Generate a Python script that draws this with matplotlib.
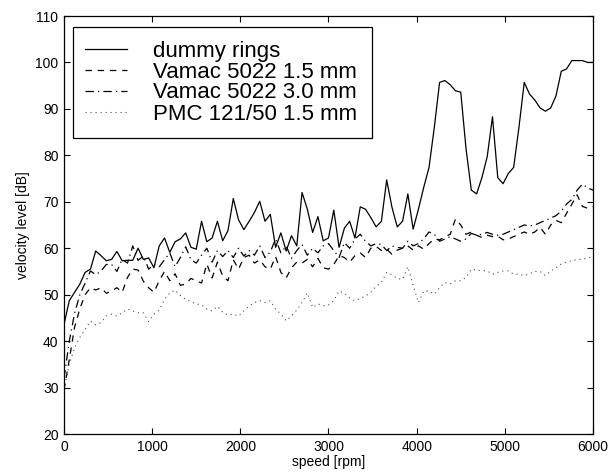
import numpy as np
import matplotlib
matplotlib.use("Agg")
import matplotlib.pyplot as plt
from matplotlib.patches import Rectangle

plt.rcParams['font.family'] = ['Liberation Sans', 'DejaVu Sans']
plt.rcParams['lines.scale_dashes'] = False

# shaft speed grid [rpm], 60 rpm steps
rpm = np.linspace(0, 6000, 101)

dummy_rings = [
    43.6, 48.7, 50.5, 52.3, 54.8, 55.5, 59.4, 58.4, 57.3, 57.6,
    59.3, 57.3, 57.4, 57.4, 60.0, 57.6, 57.9, 55.8, 60.5, 62.2,
    59.1, 61.4, 62.0, 63.3, 60.2, 59.8, 65.8, 61.4, 62.2, 65.8,
    61.6, 63.8, 70.7, 66.1, 64.0, 65.8, 67.7, 70.1, 65.8, 67.3,
    60.2, 63.3, 59.4, 62.7, 60.5, 72.0, 68.4, 63.4, 66.8, 61.6,
    62.2, 68.2, 60.2, 64.3, 65.8, 62.2, 68.9, 68.4, 66.6, 64.6,
    65.8, 74.7, 68.8, 64.6, 65.8, 71.7, 64.1, 68.4, 73.1, 77.4,
    86.0, 95.7, 96.1, 95.2, 93.9, 93.6, 81.4, 72.5, 71.7, 75.2,
    79.7, 88.3, 75.2, 73.9, 76.1, 77.4, 86.0, 95.7, 93.2, 91.9,
    90.2, 89.5, 90.2, 92.8, 98.1, 98.6, 100.4, 100.4, 100.4, 100.0,
    100.0,
]

vamac_15 = [
    29.5, 36.0, 43.0, 47.0, 50.0, 51.5, 51.0, 51.5, 50.3, 50.8,
    51.5, 50.5, 53.7, 55.5, 55.3, 52.9, 51.5, 50.5, 53.0, 55.0,
    53.0, 54.5, 52.0, 52.3, 53.5, 53.0, 52.5, 56.6, 53.6, 57.0,
    54.0, 53.0, 57.5, 55.5, 58.0, 58.5, 56.8, 57.5, 56.0, 55.5,
    58.2, 54.8, 53.6, 55.8, 57.0, 56.8, 57.6, 56.0, 57.8, 55.8,
    55.5, 56.5, 58.4, 58.0, 57.0, 58.4, 59.0, 58.0, 60.0, 60.4,
    59.5, 59.8, 58.7, 59.6, 60.0, 60.5, 59.6, 60.5, 59.8, 61.0,
    62.0, 61.8, 62.5, 63.0, 66.3, 65.0, 63.0, 63.5, 62.8, 62.3,
    62.8, 62.5, 62.6, 61.8, 62.0, 62.5, 63.0, 63.5, 63.0, 63.5,
    64.5, 63.0, 65.0, 66.0, 65.5, 67.5, 69.5, 71.5, 69.0, 68.6,
    69.0,
]

vamac_30 = [
    32.0, 40.0, 46.0, 50.0, 52.5, 55.1, 54.3, 55.1, 56.5, 56.5,
    55.0, 57.6, 56.8, 60.5, 57.4, 58.3, 55.5, 56.5, 56.0, 57.5,
    59.0, 56.0, 58.0, 60.3, 57.5, 56.8, 58.5, 60.0, 57.0, 59.5,
    58.2, 59.5, 58.0, 60.0, 58.3, 59.5, 58.5, 60.5, 58.0, 59.2,
    62.0, 59.0, 60.5, 57.8, 59.5, 60.8, 58.5, 60.0, 59.0, 60.5,
    61.0, 59.5, 58.0, 61.2, 60.0, 62.0, 63.0, 61.5, 60.5, 61.0,
    60.8, 59.5, 60.5, 60.2, 60.0, 61.5, 60.5, 61.0, 62.0, 63.5,
    63.0, 61.5, 62.0, 62.5, 62.0, 61.5, 62.0, 63.2, 62.8, 63.0,
    63.4, 63.0, 62.8, 63.0, 63.5, 64.0, 64.5, 65.0, 64.8, 65.0,
    65.5, 66.0, 66.5, 67.0, 68.0, 69.5, 70.5, 72.5, 73.8, 73.0,
    72.5,
]

pmc_15 = [
    29.5, 35.0, 38.5, 40.8, 42.5, 44.3, 43.5, 44.0, 45.4, 45.8,
    45.4, 46.1, 46.9, 46.5, 46.1, 46.1, 44.2, 45.8, 46.7, 49.0,
    50.4, 51.0, 49.8, 49.0, 48.5, 48.0, 47.8, 46.9, 46.5, 47.5,
    46.2, 45.6, 45.8, 45.4, 46.5, 47.6, 48.3, 48.7, 48.3, 48.7,
    46.9, 45.8, 44.4, 45.4, 46.7, 48.3, 50.4, 47.2, 48.0, 47.6,
    47.8, 48.7, 50.8, 50.3, 49.3, 48.7, 49.2, 49.7, 50.5, 51.8,
    52.6, 54.8, 54.3, 53.5, 53.3, 56.0, 52.0, 48.3, 50.8, 50.8,
    50.1, 51.5, 52.6, 52.3, 53.0, 53.0, 53.7, 55.5, 55.3, 55.2,
    55.1, 54.4, 54.8, 55.1, 55.1, 54.4, 54.4, 54.1, 54.5, 55.0,
    55.0, 54.1, 55.1, 55.8, 56.6, 57.0, 57.3, 57.6, 57.6, 57.9,
    58.2,
]

labels = ['dummy rings', 'Vamac 5022 1.5 mm', 'Vamac 5022 3.0 mm', 'PMC 121/50 1.5 mm']

W, H = 613, 476
AX_L, AX_R, AX_T, AX_B = 64, 593, 16, 434

fig = plt.figure(figsize=(W / 100, H / 100), dpi=100)
ax = fig.add_axes([AX_L / W, 1 - AX_B / H, (AX_R - AX_L) / W, (AX_B - AX_T) / H])


def ax_xy(px, py):
    """pixel position in the figure -> axes fraction"""
    return (px - AX_L) / (AX_R - AX_L), (AX_B - py) / (AX_B - AX_T)


ax.plot(rpm, dummy_rings, color='black', lw=0.9, linestyle='-', label=labels[0])
ax.plot(rpm, vamac_15, color='black', lw=0.9, linestyle=(0, (4.6, 4.2)), label=labels[1])
ax.plot(rpm, vamac_30, color='black', lw=0.9, linestyle=(0, (6.0, 3.0, 0.9, 3.0)), label=labels[2])
ax.plot(rpm, pmc_15, color='0.3', lw=0.8, linestyle=(0, (0.8, 2.8)), label=labels[3])

ax.set_xlim(0, 6000)
ax.set_ylim(20, 110)
ax.set_xticks(np.arange(0, 6001, 1000))
ax.set_yticks(np.arange(20, 111, 10))
ax.tick_params(direction='in', length=4, width=0.8, top=True, right=True,
               labelsize=10, pad=4, colors='black')
for s in ax.spines.values():
    s.set_linewidth(0.9)

ax.set_xlabel('speed [rpm]', fontsize=10, labelpad=1)
ax.set_ylabel('velocity level [dB]', fontsize=10, labelpad=4)

# legend box drawn separately from the entries
x0, y1 = ax_xy(73.3, 137.7)
x1, y0 = ax_xy(372, 27.3)
ax.add_patch(Rectangle((x0, y1), x1 - x0, y0 - y1, transform=ax.transAxes,
                       facecolor='white', edgecolor='black', lw=0.9, zorder=4))

leg = ax.legend(loc='upper left', bbox_to_anchor=ax_xy(85, 40.5),
                borderaxespad=0, borderpad=0, fontsize=16, frameon=False,
                handlelength=1.9, handletextpad=1.17, labelspacing=0.0)
leg.set_zorder(5)

fig.savefig('out.png', dpi=100)
